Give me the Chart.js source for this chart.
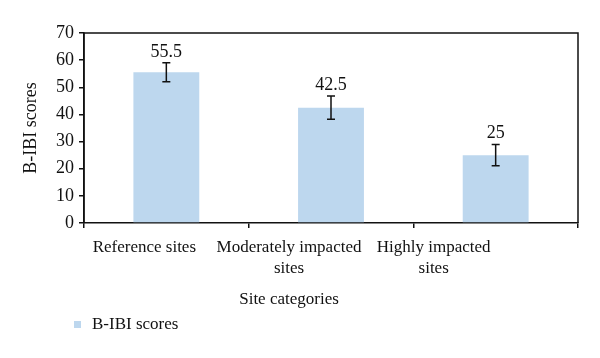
<!DOCTYPE html>
<html>
<head>
<meta charset="utf-8">
<script src="https://cdn.jsdelivr.net/npm/chart.js@4/dist/chart.umd.min.js"></script>
<style>
html,body{margin:0;padding:0;background:#fff;}
#wrap{width:600px;height:358px;}
</style>
</head>
<body>
<div id="wrap"><canvas id="c" width="600" height="358"></canvas></div>
<script>
const categories = [["Reference sites"], ["Moderately impacted", "sites"], ["Highly impacted", "sites"]];
const seriesName = "B-IBI scores";
const scores = [55.5, 42.5, 25];
const errors = [3.5, 4.3, 3.9];
const yTicks = [0, 10, 20, 30, 40, 50, 60, 70];
const xTitle = "Site categories";
const yTitle = "B-IBI scores";

const FONT = "'Liberation Serif', 'Times New Roman', serif";
const BAR = "#BDD7EE";

const overlay = {
  id: 'overlay',
  afterDatasetsDraw(chart) {
    const ctx = chart.ctx;
    const x = chart.scales.x, y = chart.scales.y;
    const a = chart.chartArea;
    ctx.save();
    // frame
    ctx.strokeStyle = '#111';
    ctx.lineWidth = 1.5;
    ctx.beginPath();
    ctx.moveTo(a.left, a.bottom);
    ctx.lineTo(a.left, a.top);
    ctx.lineTo(a.right, a.top);
    ctx.lineTo(a.right, a.bottom);
    ctx.stroke();
    // error bars & value labels
    ctx.lineWidth = 1.5;
    ctx.fillStyle = '#111';
    ctx.font = '18px ' + FONT;
    ctx.textAlign = 'center';
    ctx.textBaseline = 'bottom';
    scores.forEach((v, i) => {
      const cx = x.getPixelForValue(i);
      const top = y.getPixelForValue(v + errors[i]);
      const bot = y.getPixelForValue(v - errors[i]);
      ctx.beginPath();
      ctx.moveTo(cx, top); ctx.lineTo(cx, bot);
      ctx.moveTo(cx - 4, top); ctx.lineTo(cx + 4, top);
      ctx.moveTo(cx - 4, bot); ctx.lineTo(cx + 4, bot);
      ctx.stroke();
      ctx.fillText(String(v), cx, top - 2);
    });
    ctx.restore();
  },
  afterDraw(chart) {
    const ctx = chart.ctx;
    const x = chart.scales.x;
    const a = chart.chartArea;
    ctx.save();
    ctx.fillStyle = '#111';
    ctx.font = '17px ' + FONT;
    ctx.textAlign = 'center';
    ctx.textBaseline = 'middle';
    categories.forEach((lines, i) => {
      const cx = x.getPixelForValue(i) - 22 - 20 * i;
      lines.forEach((t, j) => ctx.fillText(t, cx, a.bottom + 25 + j * 21));
    });
    const midX = x.getPixelForValue(1) - 42;
    ctx.fillText(xTitle, midX, a.bottom + 77);
    // legend
    ctx.fillStyle = BAR;
    ctx.fillRect(a.left - 10, a.bottom + 98, 7, 7);
    ctx.fillStyle = '#111';
    ctx.textAlign = 'left';
    ctx.fillText(seriesName, a.left + 8, a.bottom + 102);
    ctx.restore();
  }
};

new Chart(document.getElementById('c'), {
  type: 'bar',
  data: {
    labels: categories.map(l => l.join(' ')),
    datasets: [{
      label: seriesName,
      data: scores,
      backgroundColor: BAR,
      borderWidth: 0,
      categoryPercentage: 1,
      barPercentage: 0.4
    }]
  },
  options: {
    responsive: false,
    animation: false,
    devicePixelRatio: 1,
    layout: { padding: { left: 0, top: 33, right: 22, bottom: 130 } },
    plugins: { legend: { display: false }, tooltip: { enabled: false } },
    scales: {
      x: {
        afterFit(s) { s.height = 5; },
        ticks: { display: false },
        grid: { offset: true, drawOnChartArea: false, drawTicks: true, tickLength: 5, color: '#111', lineWidth: 1.5 },
        border: { display: true, color: '#111', width: 1.5 }
      },
      y: {
        min: 0, max: 70,
        afterFit(s) { s.width = 84; },
        afterBuildTicks(s) { s.ticks = yTicks.map(v => ({ value: v })); },
        ticks: { color: '#111', font: { family: FONT, size: 18 }, padding: 5 },
        grid: { drawOnChartArea: false, drawTicks: true, tickLength: 5, color: '#111', lineWidth: 1.5 },
        border: { display: true, color: '#111', width: 1.5 },
        title: { display: true, text: yTitle, color: '#111', font: { family: FONT, size: 18 }, padding: { top: 20, bottom: 0 } }
      }
    }
  },
  plugins: [overlay]
});
</script>
</body>
</html>
